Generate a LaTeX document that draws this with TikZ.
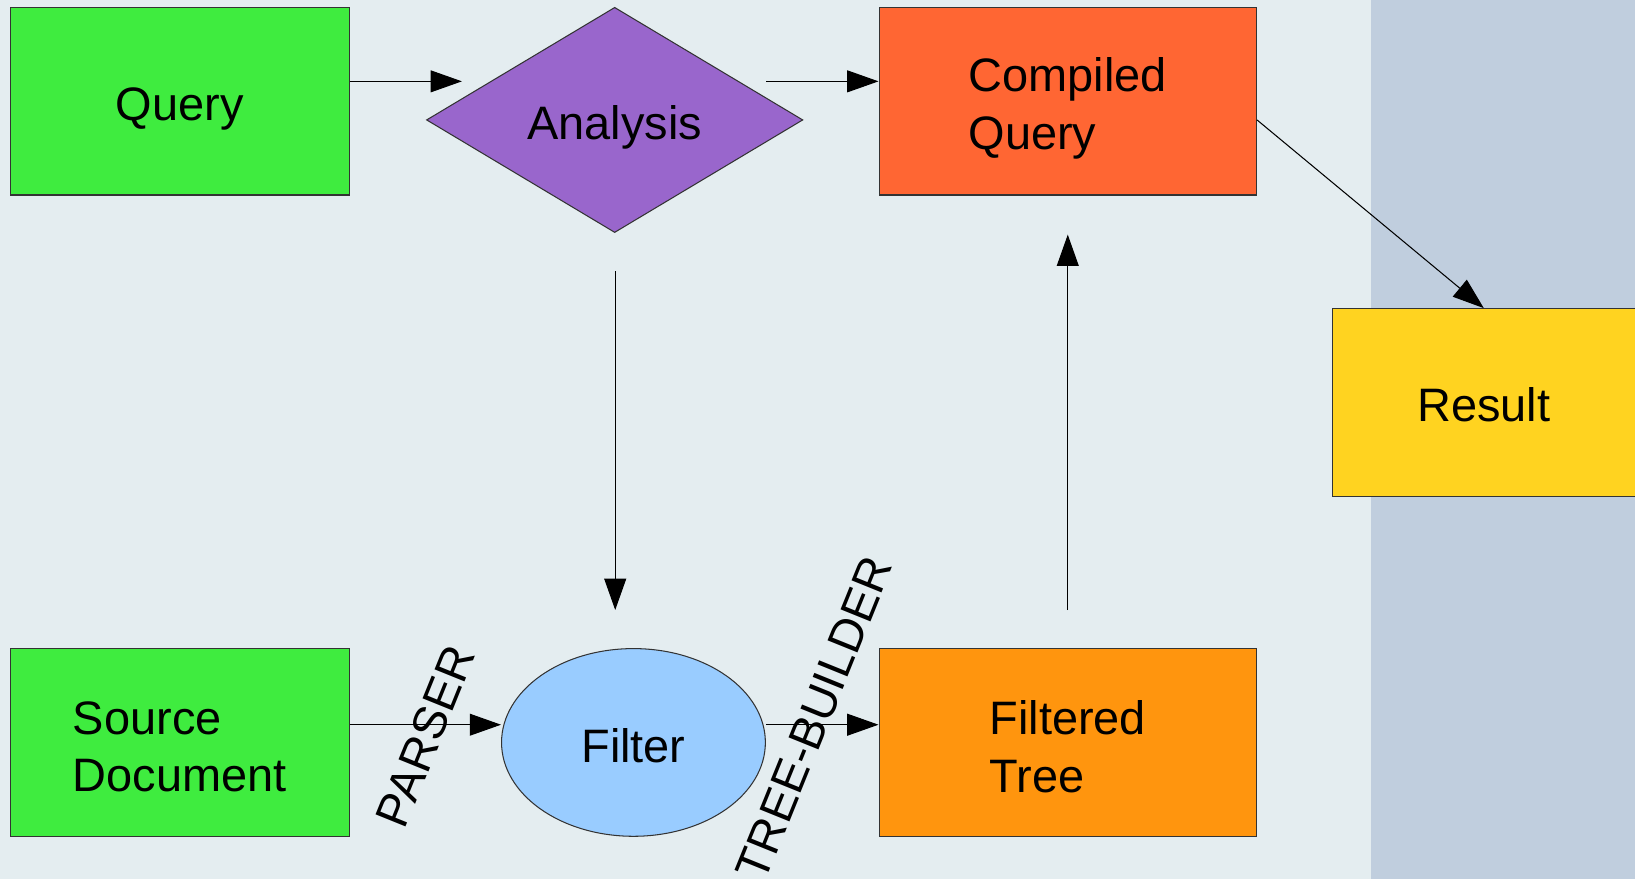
\documentclass[tikz,border=0pt]{standalone}
\usepackage{fontspec}
\setmainfont{Liberation Sans}
\usetikzlibrary{shapes.geometric,arrows.meta}
\definecolor{bgmain}{RGB}{228,237,240}
\definecolor{bgband}{RGB}{192,206,222}
\definecolor{cgreen}{RGB}{63,236,63}
\definecolor{cpurple}{RGB}{153,102,204}
\definecolor{cred}{RGB}{255,102,51}
\definecolor{cyellow}{RGB}{255,211,32}
\definecolor{corange}{RGB}{255,149,14}
\definecolor{cblue}{RGB}{153,204,255}
\definecolor{cborder}{RGB}{51,51,51}
\tikzset{
  shapebox/.style={draw=cborder, line width=0.5pt, inner sep=0pt},
  rectbox/.style={shapebox, rectangle, minimum height=90pt},
  txt/.style={font=\fontsize{22.5}{27.5}\selectfont, align=left, inner sep=0pt},
  arr/.style={draw=black, line width=0.5pt, -{Triangle[length=15pt,width=10.5pt]}},
  lbl/.style={font=\fontsize{22.5}{27.5}\selectfont, inner sep=0pt, rotate=68},
}
\begin{document}
\begin{tikzpicture}[x=0.5pt,y=-0.5pt]
\useasboundingbox (0,0) rectangle (1568,843);
\fill[bgmain] (0,0) rectangle (1568,843);
\fill[bgband] (1315,0) rectangle (1568,843);

\node[rectbox, fill=cgreen, minimum width=162.5pt] (query) at (172.5,97) {};
\node[shapebox, diamond, fill=cpurple, minimum width=180.5pt, minimum height=108pt] (analysis) at (589.5,115) {};
\node[rectbox, fill=cred, minimum width=181pt] (compiled) at (1024,97) {};
\node[rectbox, fill=cyellow, minimum width=145pt] (result) at (1423,386) {};
\node[rectbox, fill=cgreen, minimum width=162.5pt] (source) at (172.5,712) {};
\node[shapebox, ellipse, fill=cblue, minimum width=126.5pt, minimum height=90pt] (filter) at (607.5,712) {};
\node[rectbox, fill=corange, minimum width=181pt] (filtered) at (1024,712) {};

\node[txt] (queryt) at ([yshift=-3.75pt]query.center) {Query};
\node[txt] (analysist) at ([yshift=-3.75pt]analysis.center) {Analysis};
\node[txt] (compiledt) at ([yshift=-3.5pt]compiled.center) {Compiled\\Query};
\node[txt] (resultt) at ([yshift=-1pt]result.center) {Result};
\node[txt] (sourcet) at ([yshift=-2pt]source.center) {Source\\Document};
\node[txt] (filtert) at ([yshift=-1.5pt]filter.center) {Filter};
\node[txt] (filteredt) at ([yshift=-2pt]filtered.center) {Filtered\\Tree};

\coordinate (a1) at (443,78);
\coordinate (a2) at (735,78);
\coordinate (a3s) at (590,260);
\coordinate (a3e) at (590,585);
\coordinate (row) at (0,695);
\coordinate (a6s) at (1024,585);
\coordinate (a6e) at (1024,225);
\coordinate (a7) at (0,115);

\draw[arr] (query.east |- a1) -- (a1);
\draw[arr] (a2) -- (compiled.west |- a2);
\draw[arr] (a3s) -- (a3e);
\draw[arr] (source.east |- row) -- (filter.west |- row);
\draw[arr] (filter.east |- row) -- (filtered.west |- row);
\draw[arr] (a6s) -- (a6e);
\draw[arr] (compiled.east |- a7) -- (result.north);

\node[lbl] (parser) at (408,706) {PARSER};
\node[lbl] (treebuilder) at (781,689) {TREE-BUILDER};
\end{tikzpicture}
\end{document}
